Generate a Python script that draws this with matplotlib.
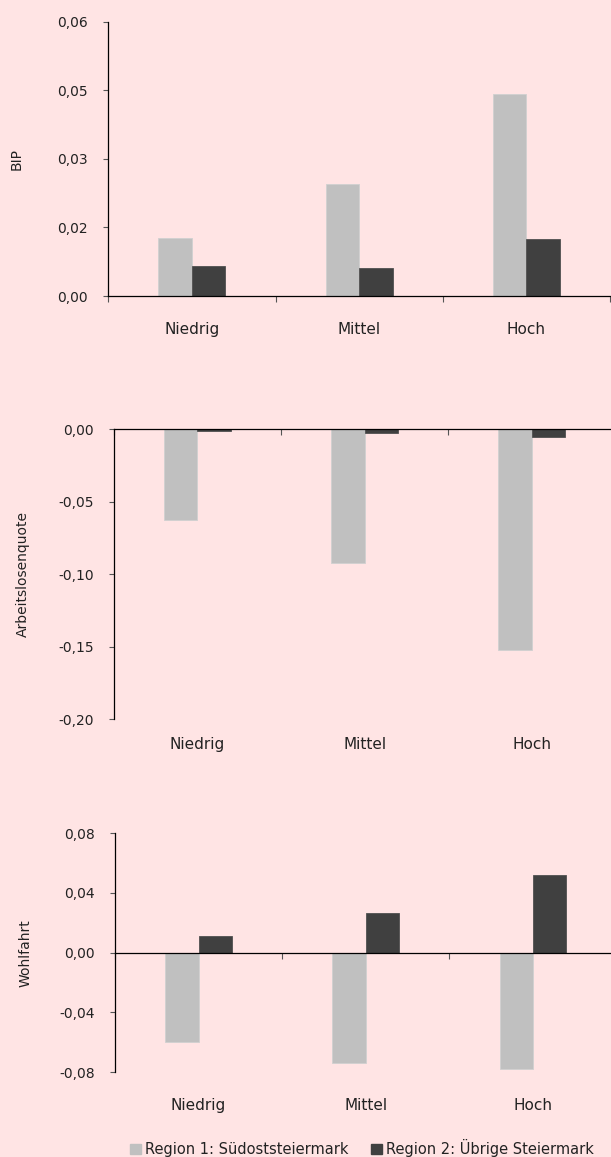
import matplotlib
matplotlib.use("Agg")
from matplotlib import pyplot as plt
from matplotlib.patches import Patch
import numpy as np

# categories and series values
categories = ["Niedrig", "Mittel", "Hoch"]
series_names = ["Region 1: Südoststeiermark", "Region 2: Übrige Steiermark"]

bip_r1 = [0.0126, 0.0245, 0.0442]
bip_r2 = [0.0066, 0.0062, 0.0125]
alq_r1 = [-0.0625, -0.0924, -0.1524]
alq_r2 = [-0.0014, -0.0028, -0.0055]
wf_r1 = [-0.0599, -0.0740, -0.0778]
wf_r2 = [0.0109, 0.0268, 0.0521]

bip_ticks = [0.0, 0.015, 0.03, 0.045, 0.06]
bip_labels = ["0,00", "0,02", "0,03", "0,05", "0,06"]
alq_ticks = [-0.20, -0.15, -0.10, -0.05, 0.0]
alq_labels = ["-0,20", "-0,15", "-0,10", "-0,05", "0,00"]
wf_ticks = [-0.08, -0.04, 0.0, 0.04, 0.08]
wf_labels = ["-0,08", "-0,04", "0,00", "0,04", "0,08"]

BG = "#FFE4E4"
LIGHT = "#C0C0C0"
DARK = "#404040"

plt.rcParams["font.family"] = ["DejaVu Sans"]
plt.rcParams["font.size"] = 10

fig = plt.figure(figsize=(6.11, 11.57), dpi=100)
fig.patch.set_facecolor(BG)

W = 611.0
H = 1157.0

def panel(left_px, top_px, bottom_px, r1, r2, ticks, labels, ylabel, ylabel_x, label_off):
    ax = fig.add_axes([left_px / W, 1 - bottom_px / H, 501.6 / W, (bottom_px - top_px) / H])
    ax.set_facecolor(BG)
    x = np.arange(len(categories))
    w = 0.2
    ax.bar(x - w / 2, r1, width=w, color=LIGHT, edgecolor="#D0D0D0", linewidth=0.6, zorder=2)
    ax.bar(x + w / 2, r2, width=w, color=DARK, edgecolor="#505050", linewidth=0.6, zorder=2)
    ax.set_xlim(-0.5, 2.5)
    ax.set_ylim(ticks[0], ticks[-1])
    ax.set_yticks(ticks)
    ax.set_yticklabels(labels)
    for s in ["top", "right"]:
        ax.spines[s].set_visible(False)
    ax.spines["bottom"].set_position(("data", 0))
    ax.spines["bottom"].set_zorder(3)
    ax.spines["left"].set_linewidth(0.9)
    ax.spines["bottom"].set_linewidth(0.9)
    # ticks sit on the category boundaries, labels in the middle
    ax.set_xticks([-0.5, 0.5, 1.5, 2.5])
    ax.set_xticklabels([])
    ax.tick_params(axis="x", direction="out", length=4, width=0.8, color="#555555")
    ax.tick_params(axis="y", direction="out", length=3.5, width=0.8, pad=11,
                   color="#555555", labelcolor="#222222")
    for xi, c in zip(x, categories):
        ax.annotate(c, xy=(xi, 0), xycoords=("data", "axes fraction"),
                    xytext=(0, -label_off), textcoords="offset pixels",
                    ha="center", va="center_baseline", color="#222222", fontsize=11)
    fig.text(ylabel_x / W, 1 - (top_px + bottom_px) / 2 / H, ylabel,
             rotation=90, ha="center", va="center", color="#222222")
    return ax

panel(108.3, 21.7, 296.0, bip_r1, bip_r2, bip_ticks, bip_labels, "BIP", 17, 32)
panel(113.8, 429.3, 719.3, alq_r1, alq_r2, alq_ticks, alq_labels, "Arbeitslosenquote", 23, 24)
panel(115.0, 833.3, 1072.0, wf_r1, wf_r2, wf_ticks, wf_labels, "Wohlfahrt", 26, 32)

handles = [Patch(facecolor=LIGHT, edgecolor=LIGHT), Patch(facecolor=DARK, edgecolor=DARK)]
fig.legend(handles, series_names, loc="center", bbox_to_anchor=(362 / W, 1 - 1148 / H),
           ncol=2, frameon=False, handlelength=0.75, handleheight=0.75,
           handletextpad=0.25, columnspacing=1.6, fontsize=10.5, labelcolor="#222222")

fig.savefig("out.png", dpi=100, facecolor=BG)
